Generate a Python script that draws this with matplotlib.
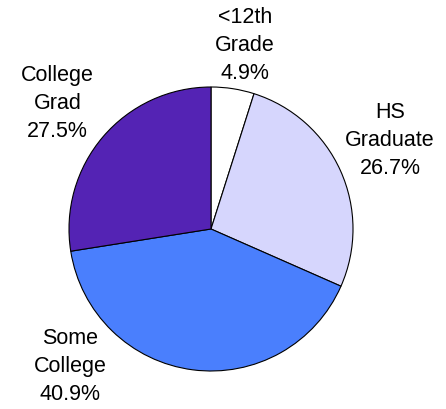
import matplotlib.pyplot as plt

labels = ['<12th\nGrade\n4.9%', 'HS\nGraduate\n26.7%', 'Some\nCollege\n40.9%', 'College\nGrad\n27.5%']
values = [4.9, 26.7, 40.9, 27.5]
colors = ['#FFFFFF', '#D6D6FD', '#4A7FFD', '#5423B4']

# label spots, in pie radius units
label_pos = [(0.24, 1.30), (1.26, 0.63), (-0.99, -0.96), (-1.08, 0.89)]

plt.rcParams['font.family'] = ['Liberation Sans', 'DejaVu Sans']

fig = plt.figure(figsize=(4.46, 4.10), dpi=100)
ax = fig.add_axes([0, 0, 1, 1])

ax.pie(values, colors=colors, startangle=90, counterclock=False,
       wedgeprops=dict(edgecolor='black', linewidth=0.8))

for txt, (x, y) in zip(labels, label_pos):
    ax.text(x, y, txt, ha='center', va='center', fontsize=15.5, linespacing=1.45)

ax.set_xlim((0 - 211) / 142, (446 - 211) / 142)
ax.set_ylim((230 - 410) / 142, (230 - 0) / 142)
ax.set_aspect('auto')
ax.axis('off')

plt.savefig('out.png', dpi=100)
